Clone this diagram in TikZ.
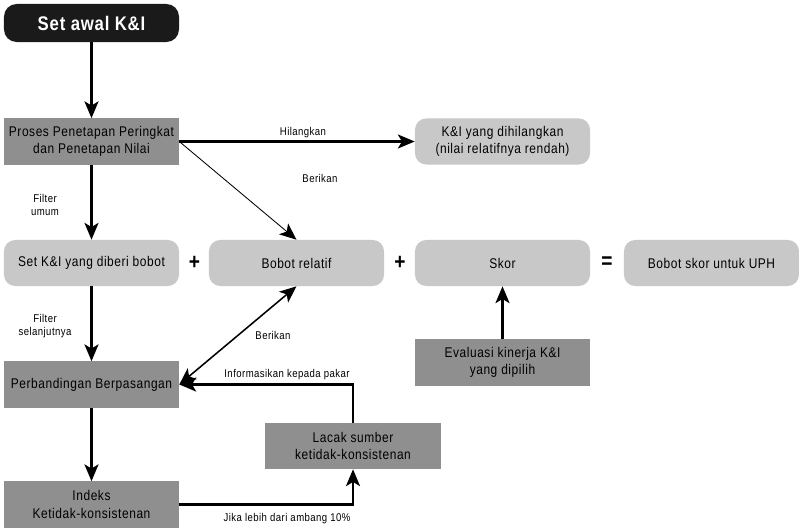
\documentclass[tikz,border=0pt]{standalone}
\usepackage{fontspec}
\setmainfont{Liberation Sans}[FakeStretch=0.85,LetterSpace=4]
\usetikzlibrary{arrows.meta}
\definecolor{darkbox}{HTML}{8F8F8F}
\definecolor{lightbox}{HTML}{C8C8C8}
\definecolor{startbox}{HTML}{1A1A1A}
\begin{document}
\begin{tikzpicture}[x=0.025cm,y=-0.025cm,
  procbox/.style={fill=darkbox,minimum width=4.375cm,minimum height=1.15cm,inner sep=0pt,align=center,font=\fontsize{10}{12.5}\selectfont},
  softbox/.style={fill=lightbox,rounded corners=8pt,minimum width=4.375cm,minimum height=1.15cm,inner sep=0pt,align=center,font=\fontsize{10}{12.5}\selectfont},
  flow/.style={line width=1.5pt,-{Stealth[length=12pt,width=10pt,inset=3pt]}},
  lbl/.style={font=\fontsize{8}{9.5}\selectfont,align=center},
  sign/.style={font=\fontsize{16}{16}\bfseries}]
  \useasboundingbox (0,0) rectangle (799,530);
  % draw the boxes
  \node[fill=startbox,rounded corners=9pt,minimum width=4.375cm,minimum height=0.95cm,text=white,font=\fontsize{14}{14}\bfseries] (start) at (91.5,23) {Set awal K\&I};
  \node[procbox] (proses) at (91.5,141.5) {Proses Penetapan Peringkat\\dan Penetapan Nilai};
  \node[softbox] (hilang) at (502.5,141.5) {K\&I yang dihilangkan\\(nilai relatifnya rendah)};
  \node[softbox] (setbobot) at (91.5,263) {Set K\&I yang diberi bobot};
  \node[softbox] (relatif) at (296.5,263) {Bobot relatif};
  \node[softbox] (skor) at (502.5,263) {Skor};
  \node[softbox] (uph) at (711.5,263) {Bobot skor untuk UPH};
  \node[procbox] (evaluasi) at (502.5,362.5) {Evaluasi kinerja K\&I\\yang dipilih};
  \node[procbox] (banding) at (91.5,384.5) {Perbandingan Berpasangan};
  \node[procbox] (lacak) at (353,446) {Lacak sumber\\ketidak-konsistenan};
  \node[procbox] (indeks) at (91.5,504.5) {Indeks\\Ketidak-konsistenan};
  % plus and equals signs
  \node[sign] (plusa) at (194.5,263) {+};
  \node[sign] (plusb) at (400,263) {+};
  \node[sign] (sama) at (607,263) {=};
  % connectors
  \draw[flow] (start) -- (proses);
  \draw[flow] (proses.east) -- (hilang.west);
  \draw[line width=0.6pt,-{Stealth[length=12pt,width=10pt,inset=3pt]}] (proses.east) -- (relatif.north);
  \draw[flow] (proses) -- (setbobot);
  \draw[flow] (setbobot) -- (banding);
  \draw[line width=1.1pt,{Stealth[length=12pt,width=10pt,inset=3pt]}-{Stealth[length=12pt,width=10pt,inset=3pt]}] (banding.east) -- (relatif.south);
  \draw[flow] (banding) -- (indeks);
  \draw[flow] (lacak.north) |- (banding.east);
  \draw[flow] (indeks.east) -| (lacak.south);
  \draw[flow] (evaluasi) -- (skor);
  % labels
  \node[lbl] (hilangkan) at (303,133) {Hilangkan};
  \node[lbl] (berikana) at (320,178) {Berikan};
  \node[lbl] (filtera) at (45,205) {Filter\\umum};
  \node[lbl] (filterb) at (45,326) {Filter\\selanjutnya};
  \node[lbl] (berikanb) at (273,335) {Berikan};
  \node[lbl] (informasi) at (287,375) {Informasikan kepada pakar};
  \node[lbl] (ambang) at (287,519) {Jika lebih dari ambang 10\%};
\end{tikzpicture}
\end{document}
